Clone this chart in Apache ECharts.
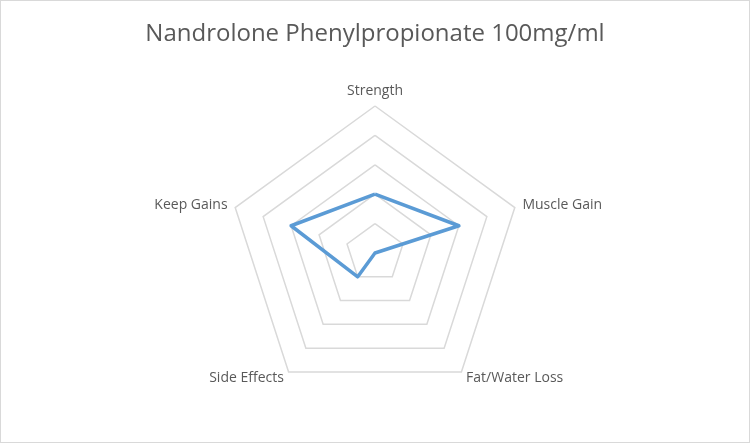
<!DOCTYPE html>
<html><head><meta charset="utf-8">
<script src="https://cdn.jsdelivr.net/npm/echarts@6/dist/echarts.min.js"></script>
<style>html,body{margin:0;padding:0;background:#fff}#c{width:750px;height:443px;box-sizing:border-box;border:1px solid #d9d9d9}</style>
</head><body><div id="c"></div>
<script>
// ECharts radar runs counter-clockwise, so list in that order
const indicators = ["Strength","Keep Gains","Side Effects","Fat/Water Loss","Muscle Gain"];
const values = [2,3,1,0,3];
const maxValue = 5;
const chart = echarts.init(document.getElementById('c'));
chart.setOption({
  animation:false,
  title:{text:"Nandrolone Phenylpropionate 100mg/ml",left:'center',top:16,
    textStyle:{fontFamily:'Open Sans',fontSize:24,fontWeight:'normal',color:'#595959'}},
  radar:{
    center:[374,252],radius:147,startAngle:90,splitNumber:5,shape:'polygon',
    indicator:indicators.map(n=>({name:n,max:maxValue,min:0})),
    axisName:{color:'#595959',fontFamily:'Open Sans',fontSize:14},
    nameGap:8,
    splitLine:{lineStyle:{color:'#d9d9d9',width:1.5}},
    splitArea:{show:false},
    axisLine:{show:false},axisTick:{show:false}
  },
  series:[{type:'radar',symbol:'none',
    lineStyle:{color:'#5b9bd5',width:3.5},
    data:[{value:values}]}]
});
</script></body></html>
